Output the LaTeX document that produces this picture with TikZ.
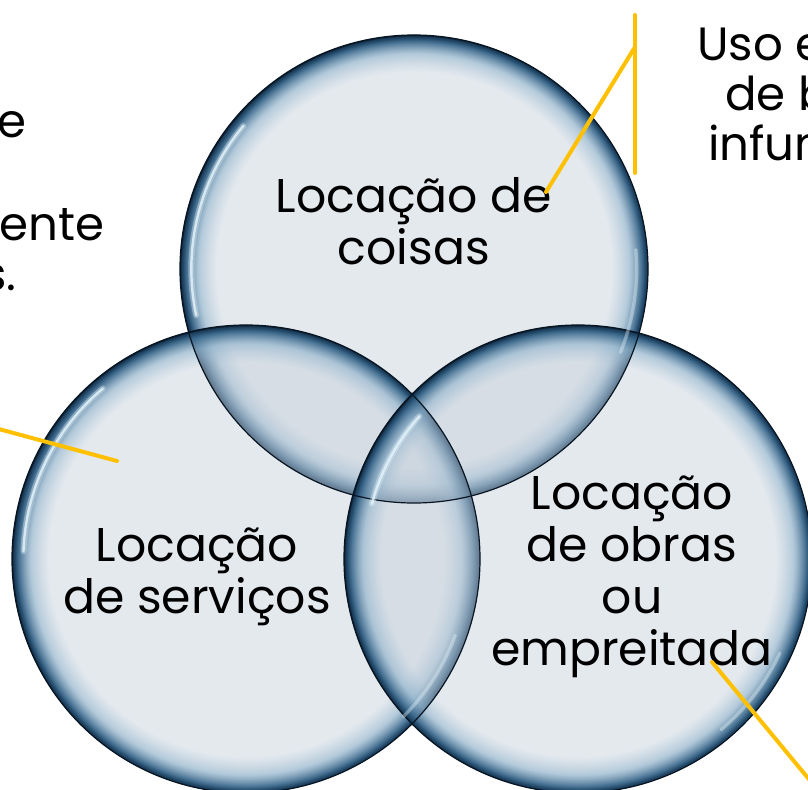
\documentclass[tikz,border=0pt]{standalone}
\usepackage{fontspec}
\setmainfont{Poppins}
\usetikzlibrary{fadings}
\definecolor{bubin}{RGB}{197,208,219}
\definecolor{bubmid}{RGB}{150,182,205}
\definecolor{bubrim}{RGB}{56,102,138}
\definecolor{bubdark}{RGB}{26,60,90}
\definecolor{bubedge}{RGB}{8,22,36}
\definecolor{gold}{RGB}{255,192,0}
\definecolor{glint}{RGB}{225,242,250}
\pgfdeclareradialshading{bubble}{\pgfpointorigin}{color(0bp)=(bubin); color(21bp)=(bubin); color(23bp)=(bubmid); color(24.3bp)=(bubrim); color(24.85bp)=(bubdark); color(25bp)=(bubedge); color(50bp)=(bubedge)}
\pgfdeclareradialshading{bubfadeshade}{\pgfpointorigin}{color(0bp)=(pgftransparent!55); color(21bp)=(pgftransparent!55); color(23.5bp)=(pgftransparent!20); color(24.6bp)=(pgftransparent!0); color(50bp)=(pgftransparent!0)}
\pgfdeclarefading{bubfade}{\pgfuseshading{bubfadeshade}}
\tikzset{
  bubblestyle/.style={shading=bubble, path fading=bubfade},
  bubline/.style={draw=bubedge, line width=0.9pt},
  hiliteglow/.style={draw=glint, line width=4.5pt, opacity=0.35, line cap=round},
  hilite/.style={draw=glint, line width=1.8pt, opacity=0.85, line cap=round},
  hilitesoft/.style={draw=glint, line width=2.5pt, opacity=0.4, line cap=round},
  maintext/.style={align=center, font=\fontsize{35.5}{39}\selectfont, text=black},
  sidetext/.style={font=\fontsize{35}{39}\selectfont, text=black, inner sep=0pt},
  goldline/.style={draw=gold, line width=3pt, line cap=round}
}
\begin{document}
\begin{tikzpicture}[x=0.75pt,y=-0.75pt]
\useasboundingbox (0,0) rectangle (808,790);
\clip (0,0) rectangle (808,790);
\fill[white] (0,0) rectangle (808,790);
\coordinate (cT) at (414,269);
\coordinate (cL) at (246,559);
\coordinate (cR) at (578,559);
% bubbles
\shade[bubblestyle] (cT) circle (175.5pt);
\shade[bubblestyle] (cL) circle (175.5pt);
\shade[bubblestyle] (cR) circle (175.5pt);
\draw[bubline] (cT) circle (175.5pt);
\draw[bubline] (cL) circle (175.5pt);
\draw[bubline] (cR) circle (175.5pt);
% highlights
\draw[hiliteglow] ([shift={(cT)}]140:167pt) arc[start angle=140, end angle=192, radius=167pt];
\draw[hilite] ([shift={(cT)}]140:167pt) arc[start angle=140, end angle=192, radius=167pt];
\draw[hilitesoft] ([shift={(cT)}]5:167pt) arc[start angle=5, end angle=-22, radius=167pt];
\draw[hiliteglow] ([shift={(cL)}]130:167pt) arc[start angle=130, end angle=178, radius=167pt];
\draw[hilite] ([shift={(cL)}]130:167pt) arc[start angle=130, end angle=178, radius=167pt];
\draw[hilitesoft] ([shift={(cL)}]-20:167pt) arc[start angle=-20, end angle=-45, radius=167pt];
\draw[hiliteglow] ([shift={(cR)}]138:160pt) arc[start angle=138, end angle=165, radius=160pt];
\draw[hilite] ([shift={(cR)}]138:160pt) arc[start angle=138, end angle=165, radius=160pt];
\draw[hilitesoft] ([shift={(cR)}]-25:167pt) arc[start angle=-25, end angle=-50, radius=167pt];
% texts
\node[maintext] (tT) at (414,221) {Locação de\\coisas};
\node[maintext] (tL) at (197,577) {Locação\\de serviços};
\node[maintext] (tR) at (632,577) {Locação\\de obras\\ou\\empreitada};
% side texts (cut by the frame)
\node[sidetext, anchor=base west] (s1) at (697,60) {Uso e};
\node[sidetext, anchor=base west] (s2) at (725,110) {de b};
\node[sidetext, anchor=base west] (s3) at (708,160) {infun};
\node[sidetext, anchor=base east] (l1) at (27,137) {e};
\node[sidetext, anchor=base west] (l2) at (-1,240) {ente};
\node[sidetext, anchor=base east] (l3) at (17,290) {s.};
% connectors
\coordinate (kTtop) at (635,15);
\coordinate (kTbot) at (635,173);
\coordinate (kTj) at (635,47);
\coordinate (kTend) at (546,192);
\coordinate (kLs) at (-5,428);
\coordinate (kLe) at (117,461);
\coordinate (kRs) at (712,662);
\coordinate (kRe) at (822,795);
\draw[goldline] (kTtop) -- (kTbot);
\draw[goldline] (kTj) -- (kTend);
\draw[goldline] (kLs) -- (kLe);
\draw[goldline] (kRs) -- (kRe);
\end{tikzpicture}
\end{document}
